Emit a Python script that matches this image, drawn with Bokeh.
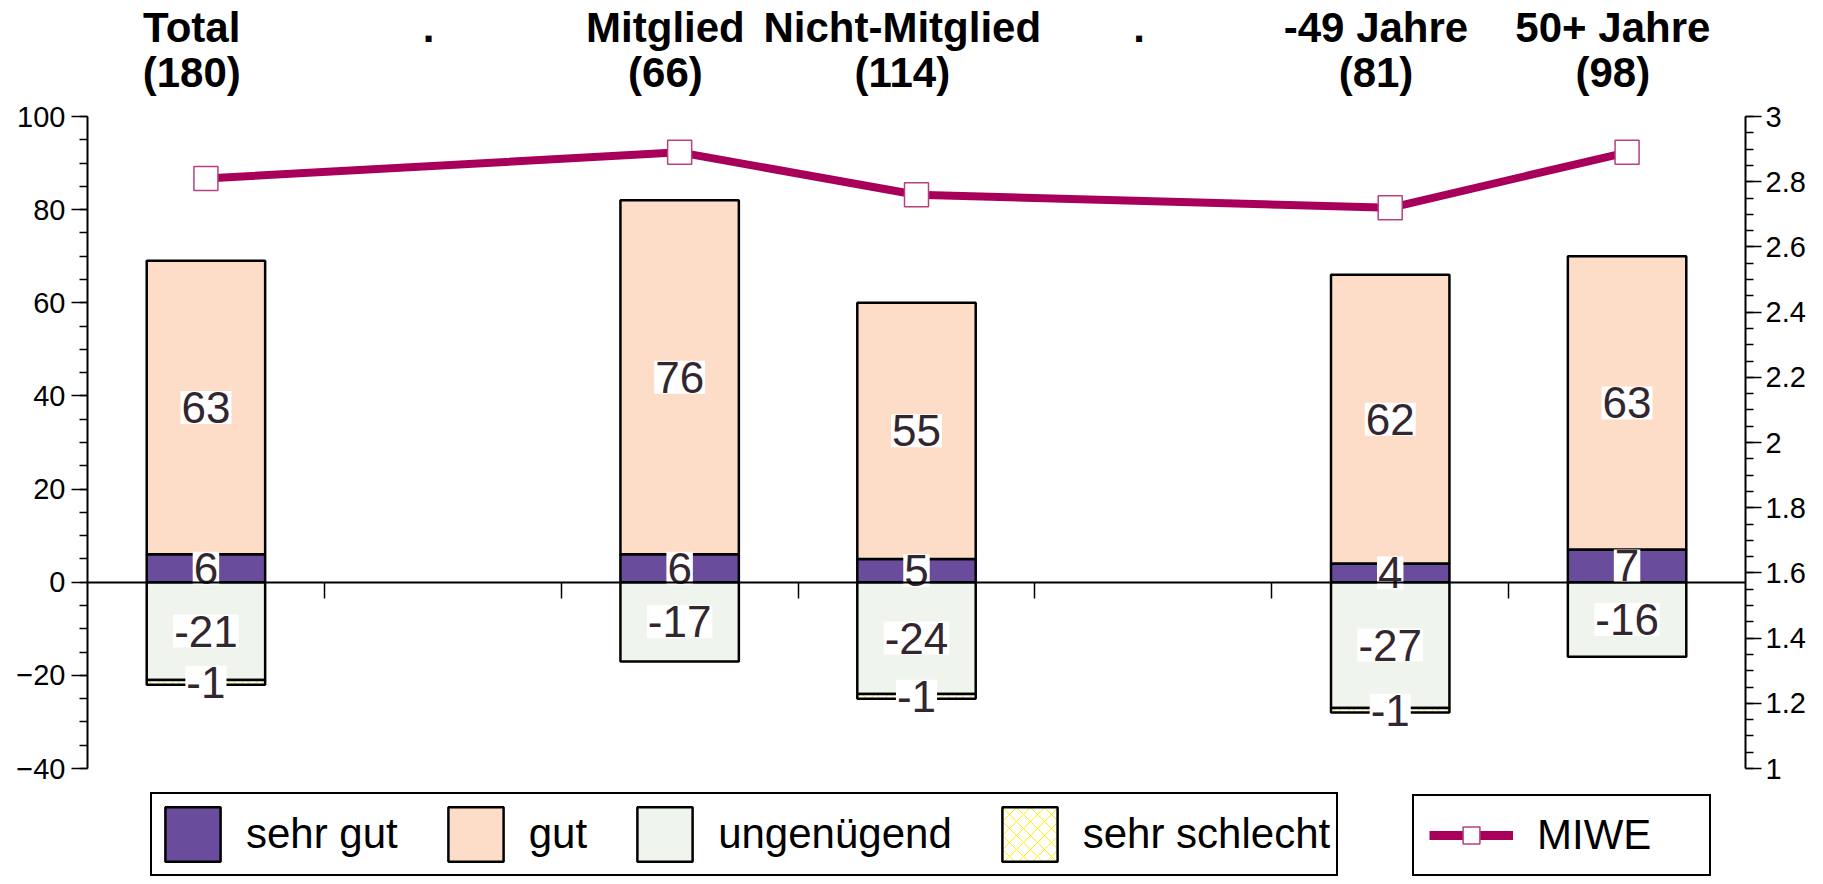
from bokeh.plotting import figure
from bokeh.layouts import column
from bokeh.models import (Range1d, LinearAxis, FixedTicker, Legend, LegendItem,
                          NumeralTickFormatter, ColumnDataSource)
from bokeh.core.properties import value
from bokeh.embed import file_html
from bokeh.resources import INLINE

# ---------------- data ----------------
categories = ["Total\n(180)", ".", "Mitglied\n(66)", "Nicht-Mitglied\n(114)", ".",
              "-49 Jahre\n(81)", "50+ Jahre\n(98)"]
sehr_gut = [6, 6, 5, 4, 7]
gut = [63, 76, 55, 62, 63]
ungenuegend = [-21, -17, -24, -27, -16]
sehr_schlecht = [-1, 0, -1, -1, 0]
miwe = [2.81, 2.89, 2.76, 2.72, 2.89]
series_names = ["sehr gut", "gut", "ungenügend", "sehr schlecht"]
line_name = "MIWE"
left_ticks = [-40, -20, 0, 20, 40, 60, 80, 100]
right_ticks = [1.0, 1.2, 1.4, 1.6, 1.8, 2.0, 2.2, 2.4, 2.6, 2.8, 3.0]

FONT = "Liberation Sans"
C_SG, C_GUT, C_UNG = "#6A4C9C", "#FDDCC8", "#EFF5EC"
C_HATCH = "#FFF200"
C_LINE = "#A8005A"
C_MARK = "#B8407F"
LBL = "#33272F"
BAR_LW = 2.5
NAN = float("nan")

slots = [i + 0.5 for i, c in enumerate(categories) if c != "."]

gut_bottom = list(sehr_gut)
gut_top = [a + b for a, b in zip(sehr_gut, gut)]
ss_idx = [i for i, v in enumerate(sehr_schlecht) if v != 0]
ss_x = [slots[i] for i in ss_idx]
ss_top = [ungenuegend[i] for i in ss_idx]
ss_bot = [ungenuegend[i] + sehr_schlecht[i] for i in ss_idx]

p = figure(frame_width=1658, frame_height=652,
           min_border_left=87, min_border_right=62, min_border_top=108, min_border_bottom=20,
           x_range=Range1d(0, len(categories)), y_range=Range1d(-40, 100),
           output_backend="svg", toolbar_location=None,
           x_axis_location=None, y_axis_location=None)
p.extra_y_ranges = {"miwe": Range1d(1, 3)}
p.outline_line_color = None
p.xgrid.visible = False
p.ygrid.visible = False
p.background_fill_color = "white"
p.border_fill_color = "white"

W = 0.5
bar_styles = [dict(fill_color=C_SG), dict(fill_color=C_GUT), dict(fill_color=C_UNG),
              dict(fill_color="white", hatch_pattern="x", hatch_color=C_HATCH,
                   hatch_scale=14, hatch_weight=1)]
p.vbar(x=slots, bottom=0, top=sehr_gut, width=W, line_color="black", line_width=BAR_LW, **bar_styles[0])
p.vbar(x=slots, bottom=gut_bottom, top=gut_top, width=W, line_color="black", line_width=BAR_LW, **bar_styles[1])
p.vbar(x=slots, bottom=ungenuegend, top=0, width=W, line_color="black", line_width=BAR_LW, **bar_styles[2])
p.vbar(x=ss_x, bottom=ss_bot, top=ss_top, width=W, line_color="black", line_width=BAR_LW, **bar_styles[3])

# axes
yl = LinearAxis(ticker=FixedTicker(ticks=left_ticks, minor_ticks=list(range(-40, 101, 5))))
yr = LinearAxis(y_range_name="miwe",
                ticker=FixedTicker(ticks=right_ticks,
                                   minor_ticks=[round(1 + 0.05 * i, 2) for i in range(41)]),
                formatter=NumeralTickFormatter(format="0.[0]"))
for ax in (yl, yr):
    ax.major_tick_out = 16
    ax.major_tick_in = 0
    ax.minor_tick_out = 8
    ax.minor_tick_in = 0
    ax.axis_line_width = 2
    ax.major_tick_line_width = 1.5
    ax.minor_tick_line_width = 1.5
    ax.major_label_text_font = FONT
    ax.major_label_text_font_size = "29px"
    ax.major_label_text_color = "black"
yl.major_label_standoff = 6
yr.major_label_standoff = 4
p.add_layout(yl, "left")
p.add_layout(yr, "right")

xb = LinearAxis(fixed_location=0,
                ticker=FixedTicker(ticks=list(range(1, len(categories))), minor_ticks=[]))
xb.major_tick_out = 16
xb.major_tick_in = 0
xb.axis_line_width = 2
xb.major_tick_line_width = 1.5
xb.major_label_text_font_size = "0px"
xb.major_label_text_color = None
p.add_layout(xb, "below")

top_ticks = [i + 0.44 for i in range(len(categories))]
top_labels = [c if "\n" in c else c + "\n\u00a0" for c in categories]
xt = LinearAxis(ticker=FixedTicker(ticks=top_ticks, minor_ticks=[]),
                major_label_overrides={t: c for t, c in zip(top_ticks, top_labels)})
xt.axis_line_color = None
xt.major_tick_line_color = None
xt.major_tick_out = 0
xt.major_tick_in = 0
xt.major_label_text_font = FONT
xt.major_label_text_font_style = "bold"
xt.major_label_text_font_size = "42px"
xt.major_label_text_color = "black"
xt.major_label_text_line_height = 0.95
xt.major_label_standoff = 21
p.add_layout(xt, "above")

# bar labels
lab_x, lab_y, lab_t = [], [], []
for i, x in enumerate(slots):
    lab_x += [x, x, x]
    lab_y += [sehr_gut[i] / 2, sehr_gut[i] + gut[i] / 2, ungenuegend[i] / 2]
    lab_t += [str(sehr_gut[i]), str(gut[i]), str(ungenuegend[i])]
    if sehr_schlecht[i] != 0:
        lab_x.append(x)
        lab_y.append(ungenuegend[i] + sehr_schlecht[i] / 2)
        lab_t.append(str(sehr_schlecht[i]))
src = ColumnDataSource(dict(x=lab_x, y=lab_y, t=lab_t))
p.text(x="x", y="y", text="t", source=src, text_align="center", text_baseline="middle",
       text_font=value(FONT), text_font_size="44px", text_color=LBL,
       background_fill_color="white", padding=1)

# MIWE line
p.line(slots, miwe, y_range_name="miwe", line_width=8, line_color=C_LINE)
p.scatter(slots, miwe, y_range_name="miwe", marker="square", size=24,
          fill_color="white", line_color=C_MARK, line_width=1.5)

# ---------------- legend strip (frame aligned with the chart frame) ----------------
q = figure(width=1807, height=90, min_border=0, output_backend="svg", toolbar_location=None,
           x_range=Range1d(0, 1), y_range=Range1d(0, 1),
           x_axis_location=None, y_axis_location=None)
q.outline_line_color = None
q.xgrid.visible = False
q.ygrid.visible = False
q.background_fill_color = "white"
q.border_fill_color = "white"

# swatch-only renderers (no drawable data); they only feed the legends
leg_rs = [q.vbar(x=[NAN], top=[NAN], bottom=[NAN], width=1, line_color="black",
                 line_width=BAR_LW, **st) for st in bar_styles]
lr_line = q.line(x=[NAN, NAN], y=[NAN, NAN], line_width=9, line_color=C_LINE)
lr_mark = q.scatter(x=[NAN], y=[NAN], marker="square", size=18, fill_color="white",
                    line_color=C_MARK, line_width=1.5)

common = dict(orientation="horizontal", margin=0,
              label_text_font=FONT, label_text_font_size="42px", label_text_color="black",
              border_line_color="black", border_line_width=2, border_line_alpha=1,
              background_fill_color="white", background_fill_alpha=1)

leg1 = Legend(items=[LegendItem(label=n, renderers=[r]) for n, r in zip(series_names, leg_rs)],
              location=(63, 2), glyph_width=69, glyph_height=68, padding=6,
              label_standoff=19, spacing=43, **common)
q.add_layout(leg1, "center")

leg2 = Legend(items=[LegendItem(label=line_name, renderers=[lr_line, lr_mark])],
              location=(1325, 2), glyph_width=84, glyph_height=42, padding=15,
              label_standoff=24, label_width=157, **common)
q.add_layout(leg2, "center")

layout = column(p, q, spacing=0)
open("out.html", "w").write(file_html(layout, INLINE))
